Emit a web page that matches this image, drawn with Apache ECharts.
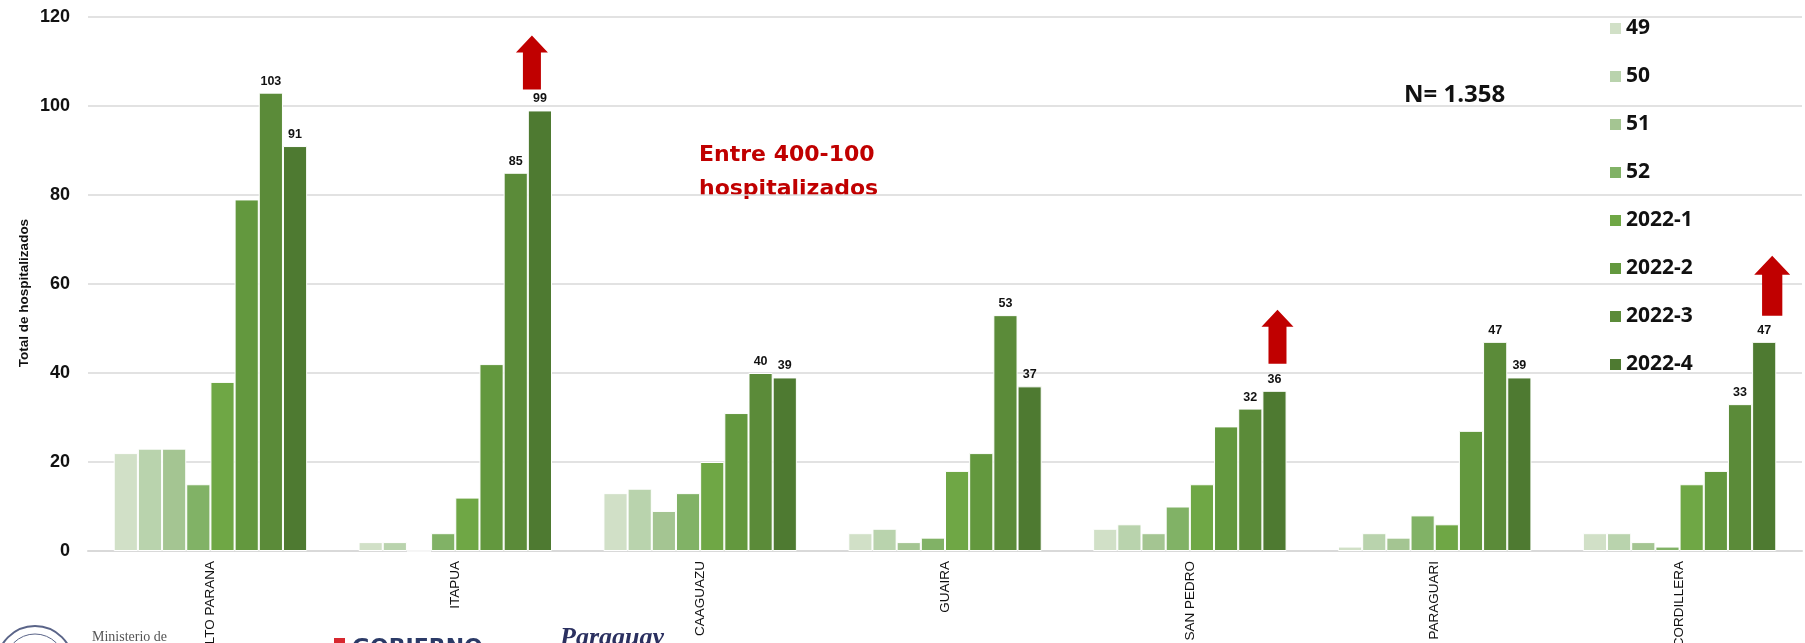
<!DOCTYPE html>
<html>
<head>
<meta charset="utf-8">
<script src="https://cdn.jsdelivr.net/npm/echarts@6/dist/echarts.min.js"></script>
<style>
  html, body { margin: 0; padding: 0; background: #fff; }
  #chart { width: 1805px; height: 643px; }
</style>
</head>
<body>
<div id="chart"></div>
<script>
// departamentos
const categories = ['ALTO PARANA', 'ITAPUA', 'CAAGUAZU', 'GUAIRA', 'SAN PEDRO', 'PARAGUARI', 'CORDILLERA'];
// semanas epidemiologicas
const weeks = ['49', '50', '51', '52', '2022-1', '2022-2', '2022-3', '2022-4'];

const s49 = [22, 2, 13, 4, 5, 1, 4];
const s50 = [23, 2, 14, 5, 6, 4, 4];
const s51 = [23, 0, 9, 2, 4, 3, 2];
const s52 = [15, 4, 13, 3, 10, 8, 1];
const s2022_1 = [38, 12, 20, 18, 15, 6, 15];
const s2022_2 = [79, 42, 31, 22, 28, 27, 18];
const s2022_3 = [103, 85, 40, 53, 32, 47, 33];
const s2022_4 = [91, 99, 39, 37, 36, 39, 47];

const yTicks = [0, 20, 40, 60, 80, 100, 120];
const arrowAt = ['ITAPUA', 'SAN PEDRO', 'CORDILLERA'];

const values = [s49, s50, s51, s52, s2022_1, s2022_2, s2022_3, s2022_4];
const colors = ['#d1e0c7', '#b9d3ad', '#a4c592', '#81b266', '#6fa745', '#63983e', '#5b8b39', '#4e7a31'];
const withLabels = ['2022-3', '2022-4'];

const arial = "'Liberation Sans', Arial, sans-serif";
const arrowPath = 'path://M16,0 L32,17 L25,17 L25,54 L7,54 L7,17 L0,17 Z';
const arrowStyle = { // offsets from the top of the 2022-4 bar
    'ITAPUA': { size: [32, 54], offset: [-8, -48] },
    'SAN PEDRO': { size: [32, 54], offset: [3, -54] },
    'CORDILLERA': { size: [36, 60], offset: [8, -56] }
};

const chart = echarts.init(document.getElementById('chart'));

const series = weeks.map((w, i) => {
    const s = {
        name: w,
        type: 'bar',
        data: values[i],
        barGap: '0%',
        barCategoryGap: '21%',
        itemStyle: { color: colors[i], borderColor: '#fff', borderWidth: 1 },
        label: {
            show: withLabels.includes(w),
            position: 'top',
            distance: 5,
            color: '#111',
            fontFamily: arial,
            fontWeight: 'bold',
            fontSize: 12.5
        }
    };
    if (w === '2022-4') {
        s.markPoint = {
            silent: true,
            symbol: arrowPath,
            symbolKeepAspect: false,
            itemStyle: { color: '#c00000', borderWidth: 0 },
            label: { show: false },
            data: arrowAt.map(c => ({
                coord: [c, s2022_4[categories.indexOf(c)]],
                symbolSize: arrowStyle[c].size,
                symbolOffset: arrowStyle[c].offset
            }))
        };
    }
    return s;
});

chart.setOption({
    animation: false,
    grid: { left: 88, right: 3, top: 17, bottom: 92, outerBoundsMode: 'none', containLabel: false },
    legend: {
        orient: 'vertical',
        left: 1610,
        top: 18,
        padding: 0,
        itemWidth: 11,
        itemHeight: 11,
        itemGap: 27,
        icon: 'rect',
        data: weeks,
        itemStyle: { borderWidth: 0 },
        textStyle: { fontFamily: "'Open Sans', sans-serif", fontWeight: 'bold', fontSize: 21, lineHeight: 20, color: '#111' }
    },
    xAxis: {
        type: 'category',
        data: categories,
        axisTick: { show: false },
        axisLine: { lineStyle: { color: '#d9d9d9', width: 2 } },
        axisLabel: { rotate: 90, margin: 10, color: '#111', fontFamily: arial, fontSize: 13.5 }
    },
    yAxis: {
        type: 'value',
        min: yTicks[0],
        max: yTicks[yTicks.length - 1],
        interval: yTicks[1] - yTicks[0],
        axisLine: { show: false },
        axisTick: { show: false },
        axisLabel: { margin: 18, color: '#111', fontFamily: arial, fontWeight: 'bold', fontSize: 18 },
        splitLine: { lineStyle: { color: '#d9d9d9', width: 1.5 } }
    },
    series: series,
    graphic: [
        { type: 'text', x: 24, y: 293, rotation: Math.PI / 2, style: { text: 'Total de hospitalizados', fill: '#111', font: "bold 13.5px 'Liberation Sans', Arial, sans-serif", align: 'center', verticalAlign: 'middle' } },
        { type: 'text', left: 1404, top: 83, style: { text: 'N= 1.358', fill: '#111', font: "bold 24px 'Open Sans', sans-serif" } },
        { type: 'text', left: 699, top: 138, style: { text: 'Entre 400-100\nhospitalizados', fill: '#c00000', font: "bold 22px 'DejaVu Sans', sans-serif", lineHeight: 34 } },
        // logos at the cut-off bottom edge
        { type: 'circle', shape: { cx: 35, cy: 664, r: 38 }, style: { fill: 'none', stroke: '#5a6488', lineWidth: 2 } },
        { type: 'circle', shape: { cx: 35, cy: 664, r: 30 }, style: { fill: 'none', stroke: '#5a6488', lineWidth: 1 } },
        { type: 'text', left: 92, top: 630, style: { text: 'Ministerio de', fill: '#555', font: "14px 'Liberation Serif', serif" } },
        { type: 'rect', shape: { x: 334, y: 638, width: 11, height: 10 }, style: { fill: '#d7282f' } },
        { type: 'text', left: 352, top: 637, style: { text: 'GOBIERNO', fill: '#2b3a67', font: "bold 22px 'DejaVu Sans', sans-serif" } },
        { type: 'text', left: 560, top: 625, style: { text: 'Paraguay', fill: '#2b3060', font: "italic bold 26px 'Liberation Serif', serif" } }
    ]
});
</script>
</body>
</html>
